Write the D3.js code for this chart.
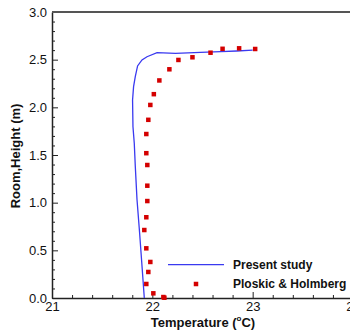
<!DOCTYPE html>
<html>
<head>
<meta charset="utf-8">
<script src="https://cdn.jsdelivr.net/npm/d3@7"></script>
<style>
  body { margin: 0; background: #fff; }
  svg { display: block; font-family: "Liberation Sans", Arial, sans-serif; }
</style>
</head>
<body>
<div id="chart"></div>
<script>
// Present study (simulation curve): temperature (C), height (m)
const simTemp   = [21.92, 21.897, 21.873, 21.847, 21.83, 21.82, 21.807, 21.803, 21.813, 21.83, 21.853, 21.897, 21.947, 22.047, 22.23, 22.48, 22.68, 22.84, 23.0];
const simHeight = [0.0, 0.336, 0.685, 1.035, 1.385, 1.623, 1.797, 2.077, 2.217, 2.321, 2.434, 2.497, 2.531, 2.573, 2.567, 2.577, 2.584, 2.591, 2.601];

// Ploskic & Holmberg (measurements)
const expTemp   = [22.12, 22.11, 22.01, 21.94, 21.96, 21.98, 21.94, 21.92, 21.94, 21.95, 21.95, 21.95, 21.94, 21.94, 21.96, 21.98, 22.015, 22.07, 22.17, 22.26, 22.40, 22.58, 22.70, 22.865, 23.025];
const expHeight = [0.003, 0.010, 0.049, 0.147, 0.273, 0.378, 0.521, 0.713, 0.847, 1.017, 1.178, 1.395, 1.519, 1.720, 1.869, 2.025, 2.138, 2.282, 2.399, 2.497, 2.525, 2.573, 2.614, 2.619, 2.612];

const xTicks = [21, 22, 23, 24];
const yTicks = [0, 0.5, 1.0, 1.5, 2.0, 2.5, 3.0];
const seriesNames = ['Present study', 'Ploskic & Holmberg'];

const width = 350, height = 332;
const margin = { top: 12, left: 52, bottom: 34 };
const plotRight = 353;

const svg = d3.select('#chart').append('svg')
    .attr('width', width)
    .attr('height', height);

const x = d3.scaleLinear().domain([21, 24]).range([margin.left, plotRight]);
const y = d3.scaleLinear().domain([0, 3]).range([height - margin.bottom, margin.top]);

const simData = simTemp.map((t, i) => ({ t, h: simHeight[i] }));
const expData = expTemp.map((t, i) => ({ t, h: expHeight[i] }));

// minor ticks
const xMinor = d3.range(21, 24.001, 0.2).filter(v => Math.abs(v - Math.round(v)) > 1e-6);
const yMinor = d3.range(0, 3.001, 0.1).filter(v => Math.abs(v * 2 - Math.round(v * 2)) > 1e-6);

svg.append('g')
    .attr('transform', `translate(0,${y(0)})`)
    .call(d3.axisBottom(x).tickValues(xMinor).tickSizeInner(-3).tickSizeOuter(0).tickFormat(''))
    .call(g => g.select('.domain').remove())
    .selectAll('line').attr('stroke', '#222');

svg.append('g')
    .attr('transform', `translate(${x(21)},0)`)
    .call(d3.axisLeft(y).tickValues(yMinor).tickSizeInner(-3).tickSizeOuter(0).tickFormat(''))
    .call(g => g.select('.domain').remove())
    .selectAll('line').attr('stroke', '#222');

// major axes
const xAxis = svg.append('g')
    .attr('transform', `translate(0,${y(0)})`)
    .call(d3.axisBottom(x).tickValues(xTicks).tickSizeInner(-6).tickSizeOuter(0).tickPadding(4).tickFormat(d3.format('d')));

const yAxis = svg.append('g')
    .attr('transform', `translate(${x(21)},0)`)
    .call(d3.axisLeft(y).tickValues(yTicks).tickSizeInner(-6).tickSizeOuter(0).tickPadding(5).tickFormat(d3.format('.1f')));

[xAxis, yAxis].forEach(a => {
    a.selectAll('text').attr('font-size', 13).attr('fill', '#111').attr('font-family', '"Liberation Sans", Arial, sans-serif');
    a.selectAll('line').attr('stroke', '#222');
    a.select('.domain').attr('stroke', '#222').attr('stroke-width', 1.5);
});

// top frame line
svg.append('line')
    .attr('x1', x(21)).attr('x2', width)
    .attr('y1', y(3)).attr('y2', y(3))
    .attr('stroke', '#555')
    .attr('stroke-width', 2);

// simulation curve
svg.append('path')
    .datum(simData)
    .attr('fill', 'none')
    .attr('stroke', '#3a3af0')
    .attr('stroke-width', 1.3)
    .attr('d', d3.line().x(d => x(d.t)).y(d => y(d.h)));

// measured points
const ms = 4.5;
svg.append('g')
    .selectAll('rect')
    .data(expData)
    .join('rect')
    .attr('x', d => x(d.t) - ms / 2)
    .attr('y', d => y(d.h) - ms / 2)
    .attr('width', ms)
    .attr('height', ms)
    .attr('fill', '#d40000');

// legend
const legend = svg.append('g').attr('font-size', 12).attr('font-weight', 'bold').attr('fill', '#111');
legend.append('line')
    .attr('x1', 168).attr('x2', 224)
    .attr('y1', 264.7).attr('y2', 264.7)
    .attr('stroke', '#3a3af0')
    .attr('stroke-width', 1.3);
legend.append('rect')
    .attr('x', 196 - ms / 2).attr('y', 284 - ms / 2)
    .attr('width', ms).attr('height', ms)
    .attr('fill', '#d40000');
legend.append('text').attr('x', 233).attr('y', 269).text(seriesNames[0]);
legend.append('text').attr('x', 233).attr('y', 288).text(seriesNames[1]);

// axis titles
const xTitle = svg.append('text')
    .attr('x', 203).attr('y', 327)
    .attr('text-anchor', 'middle')
    .attr('font-size', 13)
    .attr('font-weight', 'bold')
    .attr('fill', '#111');
xTitle.append('tspan').text('Temperature (');
xTitle.append('tspan').attr('font-size', 8).attr('dy', -6).text('o');
xTitle.append('tspan').attr('dy', 6).text('C)');

svg.append('text')
    .attr('transform', 'translate(20,156) rotate(-90)')
    .attr('text-anchor', 'middle')
    .attr('font-size', 13)
    .attr('font-weight', 'bold')
    .attr('fill', '#111')
    .text('Room,Height (m)');
</script>
</body>
</html>
